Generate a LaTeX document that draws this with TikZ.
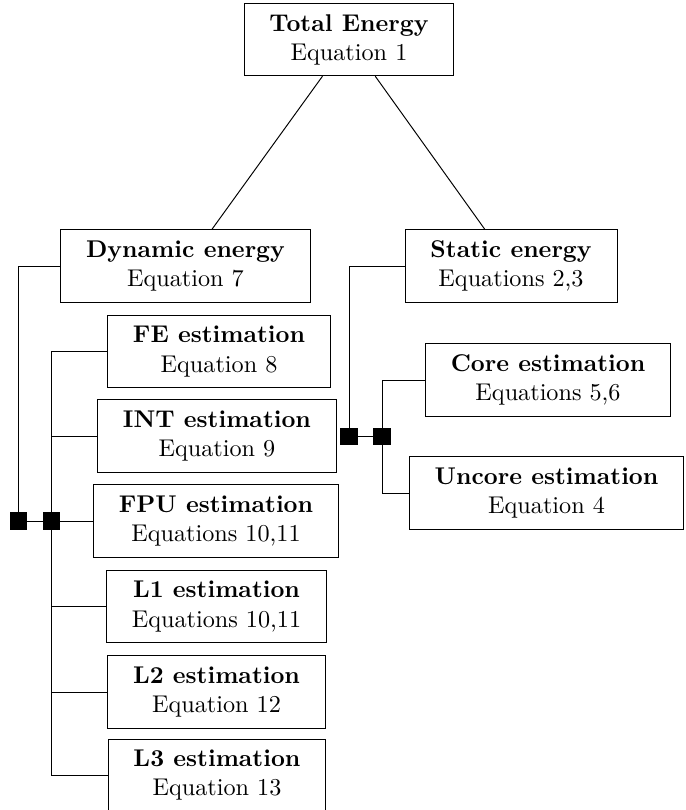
\documentclass[tikz,border=0pt]{standalone}
\usepackage{amsmath}
\usepackage{tikz}
\usetikzlibrary{arrows.meta,positioning,calc}

\begin{document}
\begin{tikzpicture}[
    box/.style={draw, align=center, inner xsep=10.5pt, inner ysep=4.5pt},
    junc/.style={draw, fill=black, minimum size=7pt, inner sep=0pt}]
    \useasboundingbox (0,0) rectangle (9.956,-11.756);
    \node[box] (total) at (5.065, -0.573) {\textbf{Total Energy}\\Equation 1};
    \node[box] (dyn) at (2.692, -3.861) {\textbf{Dynamic energy}\\Equation 7};
    \node[box] (stat) at (7.417, -3.861) {\textbf{Static energy}\\Equations 2,3};
    \node[box] (fe) at (3.179, -5.102) {\textbf{FE estimation}\\Equation 8};
    \node[box] (int) at (3.149, -6.328) {\textbf{INT estimation}\\Equation 9};
    \node[box] (fpu) at (3.135, -7.562) {\textbf{FPU estimation}\\Equations 10,11};
    \node[box] (l1) at (3.142, -8.803) {\textbf{L1 estimation}\\Equations 10,11};
    \node[box] (l2) at (3.142, -10.044) {\textbf{L2 estimation}\\Equation 12};
    \node[box] (l3) at (3.149, -11.250) {\textbf{L3 estimation}\\Equation 13};
    \node[box] (core) at (7.954, -5.515) {\textbf{Core estimation}\\Equations 5,6};
    \node[box] (uncore) at (7.932, -7.155) {\textbf{Uncore estimation}\\Equation 4};
    \node[junc] (j1) at (0.268, -7.562) {};
    \node[junc] (j2) at (0.747, -7.562) {};
    \node[junc] (j3) at (5.065, -6.335) {};
    \node[junc] (j4) at (5.544, -6.335) {};
    \draw (total) -- (dyn);
    \draw (total) -- (stat);
    \draw (dyn.west) -| (j1);
    \draw (j1) -- (j2) -- (fpu);
    \foreach \n in {fe,int,l1,l2,l3}
        \draw (\n.west) -| (j2);
    \draw (stat.west) -| (j3);
    \draw (j3) -- (j4);
    \draw (core.west) -| (j4);
    \draw (uncore.west) -| (j4);
  \end{tikzpicture}
\end{document}
